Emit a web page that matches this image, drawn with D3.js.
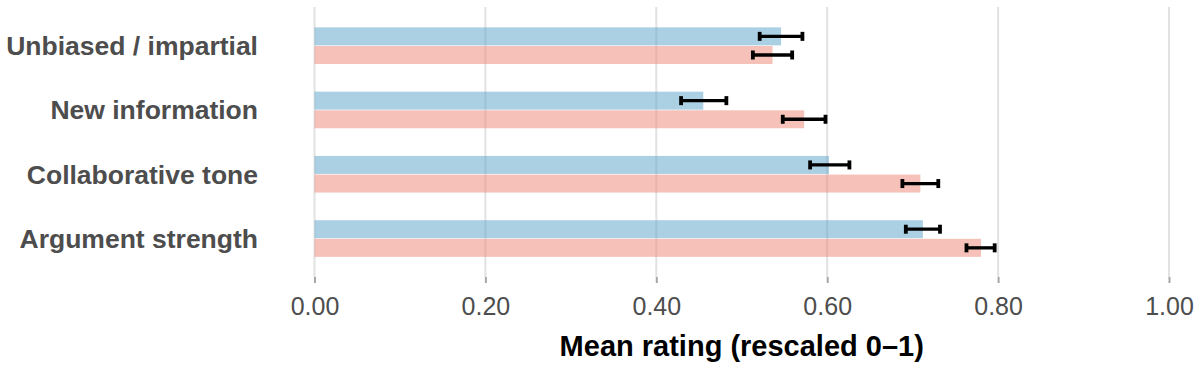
<!DOCTYPE html>
<html>
<head>
<meta charset="utf-8">
<script src="https://cdn.jsdelivr.net/npm/d3@7"></script>
<style>
  html, body { margin: 0; padding: 0; background: #fff; }
  svg { display: block; }
</style>
</head>
<body>
<svg id="chart" width="1203" height="366"></svg>
<script>
// ---- data ----
const categories = ["Unbiased / impartial", "New information", "Collaborative tone", "Argument strength"];
const seriesNames = ["Series A", "Series B"];
const meanA = [0.546, 0.455, 0.602, 0.712];
const lowA  = [0.521, 0.429, 0.580, 0.692];
const highA = [0.571, 0.482, 0.626, 0.732];
const meanB = [0.536, 0.573, 0.709, 0.780];
const lowB  = [0.513, 0.548, 0.688, 0.763];
const highB = [0.559, 0.598, 0.730, 0.796];
const xTicks = [0, 0.2, 0.4, 0.6, 0.8, 1.0];
const xTitle = "Mean rating (rescaled 0–1)";

const rows = [];
categories.forEach((c, i) => {
  rows.push({cat: c, series: 0, mean: meanA[i], lo: lowA[i], hi: highA[i]});
  rows.push({cat: c, series: 1, mean: meanB[i], lo: lowB[i], hi: highB[i]});
});

const svg = d3.select("#chart");
const x = d3.scaleLinear().domain([0, 1]).range([314.5, 1169]);
const y = d3.scaleBand().domain(categories).range([7, 277]).paddingInner(0).paddingOuter(0.1);
const sub = d3.scaleBand().domain([0, 1]).range([-18.2, 18.4]).paddingInner(0.035);
const fills = ["#57a1c9", "#eb8373"];

// gridlines
svg.append("g").selectAll("line").data(xTicks).join("line")
  .attr("x1", d => x(d)).attr("x2", d => x(d))
  .attr("y1", 7).attr("y2", 277)
  .attr("stroke", "#e2e2e2").attr("stroke-width", 2);

// axis (ticks + labels)
const axis = d3.axisBottom(x).tickValues(xTicks).tickFormat(d3.format(".2f")).tickSize(6).tickPadding(8);
const ag = svg.append("g").attr("transform", "translate(0,277)").call(axis);
ag.select(".domain").remove();
ag.selectAll(".tick line").attr("stroke", "#a6a6a6").attr("stroke-width", 2);
ag.selectAll(".tick text")
  .attr("font-family", "'Liberation Sans', Arial, sans-serif")
  .attr("font-size", 25).attr("fill", "#4d4d4d")
  .attr("dy", null).attr("y", 38);

// bars
const center = c => y(c) + y.bandwidth() / 2;
svg.append("g").selectAll("rect").data(rows).join("rect")
  .attr("x", x(0))
  .attr("y", d => center(d.cat) + sub(d.series))
  .attr("width", d => x(d.mean) - x(0))
  .attr("height", sub.bandwidth())
  .attr("fill", d => fills[d.series])
  .attr("fill-opacity", 0.5);

// error bars
const eb = svg.append("g").attr("stroke", "#000");
rows.forEach(d => {
  const cy = center(d.cat) + sub(d.series) + sub.bandwidth() / 2;
  eb.append("line").attr("x1", x(d.lo)).attr("x2", x(d.hi)).attr("y1", cy).attr("y2", cy).attr("stroke-width", 3.3);
  eb.append("line").attr("x1", x(d.lo)).attr("x2", x(d.lo)).attr("y1", cy - 4.5).attr("y2", cy + 4.5).attr("stroke-width", 3.8);
  eb.append("line").attr("x1", x(d.hi)).attr("x2", x(d.hi)).attr("y1", cy - 4.5).attr("y2", cy + 4.5).attr("stroke-width", 3.8);
});

// y labels
svg.append("g").selectAll("text").data(categories).join("text")
  .attr("x", 258).attr("y", d => center(d))
  .attr("dy", "0.36em")
  .attr("text-anchor", "end")
  .attr("font-family", "'Liberation Sans', Arial, sans-serif")
  .attr("font-weight", "bold").attr("font-size", 26.5).attr("fill", "#4d4d4d")
  .text(d => d);

// x title
svg.append("text")
  .attr("x", (x(0) + x(1)) / 2).attr("y", 356)
  .attr("text-anchor", "middle")
  .attr("font-family", "'Liberation Sans', Arial, sans-serif")
  .attr("font-weight", "bold").attr("font-size", 29).attr("fill", "#000")
  .text(xTitle);
</script>
</body>
</html>
